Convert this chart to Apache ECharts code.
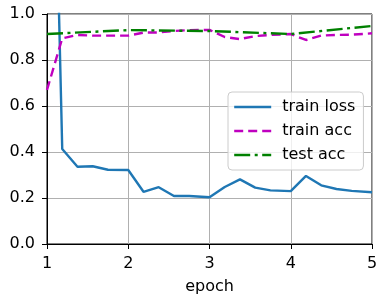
<!DOCTYPE html>
<html>
<head>
<meta charset="utf-8">
<script src="https://cdn.jsdelivr.net/npm/echarts@6/dist/echarts.min.js"></script>
<style>html,body{margin:0;padding:0;background:#fff}#c{width:384px;height:301px}</style>
</head>
<body>
<div id="c"></div>
<script>
// epochs at which batch-level metrics were recorded
const batchEpochs = [1.0, 1.1875, 1.375, 1.5625, 1.75, 2.0,
  2.1875, 2.375, 2.5625, 2.75, 3.0,
  3.1875, 3.375, 3.5625, 3.75, 4.0,
  4.1875, 4.375, 4.5625, 4.75, 5.0];
const trainLoss = [3.2, 0.413, 0.336, 0.338, 0.323, 0.322,
  0.227, 0.247, 0.209, 0.209, 0.203,
  0.248, 0.281, 0.245, 0.233, 0.230,
  0.296, 0.255, 0.239, 0.231, 0.225];
const trainAcc = [0.67, 0.894, 0.909, 0.906, 0.906, 0.906,
  0.919, 0.920, 0.926, 0.930, 0.931,
  0.900, 0.891, 0.904, 0.909, 0.913,
  0.887, 0.906, 0.909, 0.910, 0.916];
const testEpochs = [1, 2, 3, 4, 5];
const testAcc = [0.913, 0.930, 0.926, 0.913, 0.948];
const yTicks = ['0.0', '0.2', '0.4', '0.6', '0.8', '1.0'];

const zip = (xs, ys) => xs.map((x, i) => [x, ys[i]]);
const font = 'DejaVu Sans';
const LW = 2.4;
const styles = {
  'train loss': {color: '#1f77b4', type: 'solid'},
  'train acc': {color: '#bf00bf', type: [9, 5]},
  'test acc': {color: '#008000', type: [16, 4.5, 3, 4.5]}
};
const chart = echarts.init(document.getElementById('c'), null, {renderer: 'canvas'});
chart.setOption({
  animation: false,
  backgroundColor: '#fff',
  grid: {left: 47, right: 12, top: 14, bottom: 57, show: true, borderColor: '#000', borderWidth: 1, backgroundColor: 'transparent'},
  xAxis: {
    type: 'value', min: 1, max: 5, interval: 1,
    name: 'epoch', nameLocation: 'middle', nameGap: 35,
    nameTextStyle: {fontFamily: font, fontSize: 16, color: '#000'},
    axisLine: {show: true, lineStyle: {color: '#000', width: 1}},
    axisTick: {show: true, length: 5, lineStyle: {color: '#000'}},
    axisLabel: {fontFamily: font, fontSize: 16, color: '#000', margin: 12},
    splitLine: {show: true, lineStyle: {color: '#b0b0b0', width: 1}}
  },
  yAxis: {
    type: 'value', min: 0, max: 1, interval: 0.2,
    axisLine: {show: true, lineStyle: {color: '#000', width: 1}},
    axisTick: {show: true, length: 5, lineStyle: {color: '#000'}},
    axisLabel: {fontFamily: font, fontSize: 16, color: '#000', margin: 12,
      formatter: v => yTicks[Math.round(v / 0.2)]},
    splitLine: {show: true, lineStyle: {color: '#b0b0b0', width: 1}}
  },
  legend: {
    orient: 'vertical', left: 228, top: 92,
    itemWidth: 37, itemHeight: 14, itemGap: 8,
    padding: [7, 8, 7, 5],
    backgroundColor: 'rgba(255,255,255,0.8)', borderColor: '#cccccc', borderWidth: 1, borderRadius: 4,
    textStyle: {fontFamily: font, fontSize: 16, color: '#000', padding: [0, 0, 0, 6]},
    itemStyle: {color: 'transparent', borderColor: 'transparent', borderWidth: 0, opacity: 0},
    data: Object.keys(styles).map(n => ({
      name: n,
      itemStyle: {color: 'transparent', borderColor: 'transparent', borderWidth: 0, opacity: 0},
      lineStyle: {color: styles[n].color, width: LW, type: styles[n].type}
    }))
  },
  series: Object.keys(styles).map((n, i) => ({
    name: n, type: 'line',
    data: i === 0 ? zip(batchEpochs, trainLoss) : i === 1 ? zip(batchEpochs, trainAcc) : zip(testEpochs, testAcc),
    showSymbol: false, symbol: 'none', clip: true,
    lineStyle: {color: styles[n].color, width: LW, type: styles[n].type},
    itemStyle: {color: styles[n].color}
  }))
});
</script>
</body>
</html>
